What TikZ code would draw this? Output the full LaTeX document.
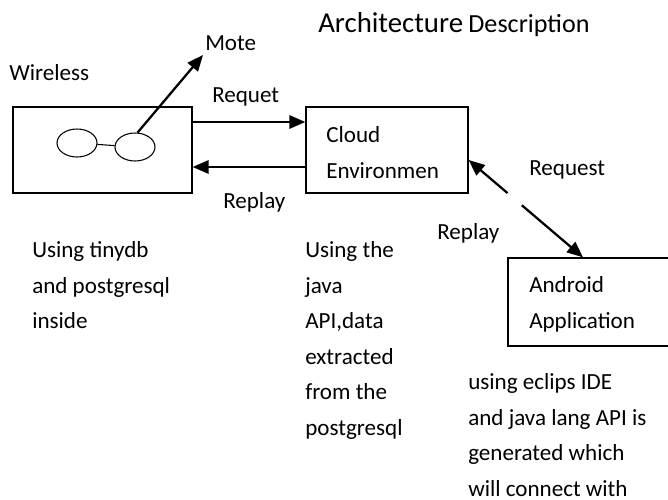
\documentclass[tikz,border=0pt]{standalone}
\usepackage{fontspec}
\setmainfont{Carlito}
\usetikzlibrary{arrows.meta,calc,shapes.geometric}

\begin{document}
\begin{tikzpicture}[x=0.75pt,y=-0.75pt,
  box/.style={draw,line width=1pt,inner sep=0pt},
  mote/.style={draw,ellipse,line width=0.8pt,inner sep=0pt,minimum width=30pt,minimum height=21pt},
  arr/.style={line width=1.7pt,-{Triangle[length=12pt,width=10pt]}},
  lbl/.style={anchor=west,inner sep=0pt,font=\fontsize{17.3}{26.6}\selectfont,align=left}]
\useasboundingbox (0,0) rectangle (668,500);
% Draw title
\node[anchor=west,inner sep=0pt] (title) at (318,25)
  {{\fontsize{21.6}{25}\selectfont Architecture}\hspace{4pt}{\fontsize{19.6}{23}\selectfont Description}};
% Draw boxes
\node[box,minimum width=134.25pt,minimum height=64.5pt] (wsn) at (102.5,150) {};
\node[box,minimum width=121.5pt,minimum height=64.5pt] (cloud) at (387,150) {};
\node[box,minimum width=121.5pt,minimum height=66pt] (andr) at (589,302) {};
% Draw box texts
\node[lbl] (cloudtxt) at (326,152.5) {Cloud\\Environmen};
\node[lbl] (andrtxt) at (529,304.5) {Android\\Application};
% Draw motes
\node[mote] (m1) at (77,143) {};
\node[mote] (m2) at (135,147) {};
\draw[line width=0.8pt] (m1) -- (m2);
\coordinate (motetip) at (203,55);
\draw[arr] (m2.80) -- (motetip);
% Draw labels
\node[lbl] (wlbl) at (9,73) {Wireless};
\node[lbl] (motelbl) at (205,43) {Mote};
\node[lbl] (req1) at (212,97) {Requet};
\node[lbl] (rep1) at (223,202) {Replay};
\node[lbl] (req2) at (529,170) {Request};
\node[lbl] (rep2) at (437,233) {Replay};
% Draw request and replay arrows
\draw[arr] ($(wsn.east)+(0,-28)$) -- ($(cloud.west)+(0,-28)$);
\draw[arr] ($(cloud.west)+(0,17)$) -- ($(wsn.east)+(0,17)$);
\coordinate (c1) at ($(cloud.east)+(0,10)$);
\coordinate (a1) at ($(andr.north)+(-6,0)$);
\coordinate (g1) at ($(c1)!0.34!(a1)$);
\coordinate (g2) at ($(c1)!0.465!(a1)$);
\draw[arr] (g1) -- (c1);
\draw[arr] (g2) -- (a1);
% Draw descriptions
\node[lbl] (wsntxt) at (32,285.5) {Using tinydb\\and postgresql\\inside};
\node[lbl] (cloudtxt2) at (305,340.5) {Using the\\java\\API,data\\extracted\\from the\\postgresql};
\node[lbl] (andrtxt2) at (468,435) {using eclips IDE\\and java lang API is\\generated which\\will connect with};
\end{tikzpicture}
\end{document}
